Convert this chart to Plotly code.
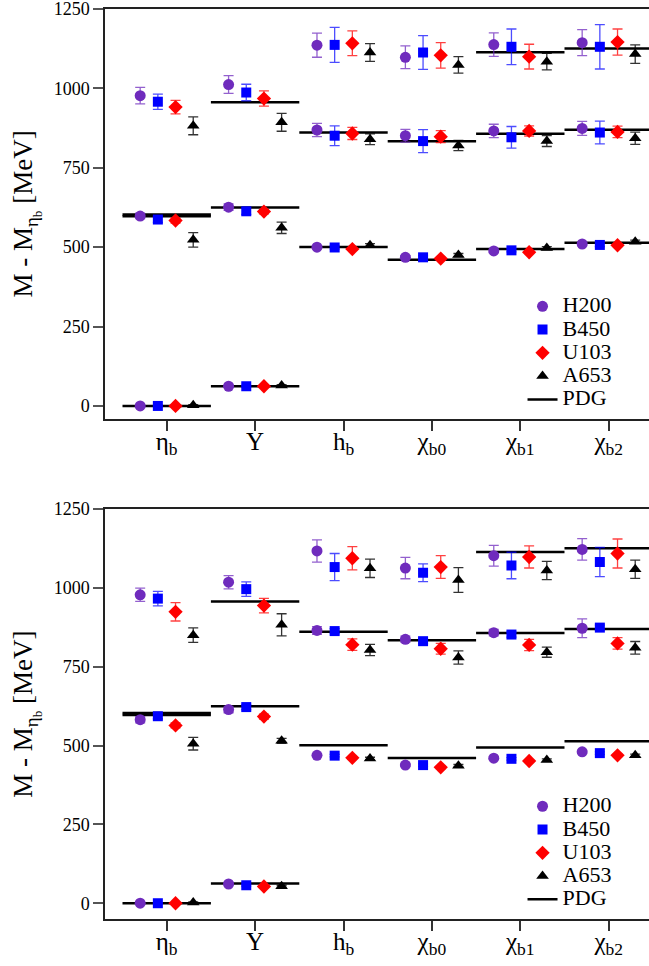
import plotly.graph_objects as go

categories = ["η<sub>b</sub>", "Υ", "h<sub>b</sub>", "χ<sub>b0</sub>", "χ<sub>b1</sub>", "χ<sub>b2</sub>"]
ensembles = ["H200", "B450", "U103", "A653"]

# values per category: [1S/1P level, 2S/2P level, 3S/3P level]
top_H200 = [[0, 598, 977], [62, 626, 1012], [500, 869, 1136], [468, 851, 1098], [488, 866, 1138], [510, 874, 1144]]
top_H200_err = [[2, 8, 26], [3, 10, 28], [5, 21, 38], [5, 20, 36], [5, 21, 37], [5, 22, 41]]
top_B450 = [[0, 587, 958], [62, 613, 987], [499, 851, 1137], [468, 834, 1113], [490, 846, 1131], [507, 861, 1131]]
top_B450_err = [[2, 9, 24], [3, 10, 26], [5, 31, 55], [5, 36, 53], [5, 34, 56], [5, 36, 70]]
top_U103 = [[0, 584, 941], [62, 612, 968], [494, 858, 1142], [464, 848, 1104], [484, 866, 1100], [506, 863, 1146]]
top_U103_err = [[2, 8, 21], [3, 7, 24], [4, 19, 39], [4, 19, 40], [4, 16, 39], [4, 18, 41]]
top_A653 = [[2, 523, 882], [64, 561, 893], [506, 840, 1113], [475, 820, 1074], [497, 834, 1084], [517, 843, 1108]]
top_A653_err = [[2, 23, 28], [3, 18, 28], [5, 17, 28], [5, 16, 26], [5, 17, 26], [5, 19, 29]]

bot_H200 = [[0, 582, 978], [61, 614, 1018], [469, 865, 1117], [438, 837, 1063], [460, 858, 1102], [480, 872, 1122]]
bot_H200_err = [[2, 10, 21], [3, 10, 21], [4, 12, 35], [4, 10, 34], [4, 10, 33], [4, 30, 34]]
bot_B450 = [[0, 593, 966], [57, 622, 996], [468, 863, 1066], [438, 831, 1048], [458, 852, 1071], [476, 874, 1082]]
bot_B450_err = [[2, 8, 23], [3, 8, 23], [4, 8, 43], [4, 8, 28], [4, 8, 42], [4, 8, 46]]
bot_U103 = [[0, 564, 924], [53, 592, 944], [461, 820, 1094], [431, 807, 1066], [451, 819, 1098], [469, 824, 1109]]
bot_U103_err = [[2, 8, 29], [3, 8, 23], [4, 18, 37], [4, 17, 36], [4, 18, 35], [4, 18, 46]]
bot_A653 = [[2, 506, 850], [54, 515, 883], [459, 803, 1062], [436, 779, 1025], [454, 796, 1055], [469, 810, 1059]]
bot_A653_err = [[2, 20, 23], [3, 8, 35], [4, 18, 29], [4, 21, 39], [4, 16, 29], [4, 20, 29]]

pdg_levels = [[0, 597, 603], [62.3, 624.6, 956.5], [500.6, 861.0], [460.7, 833.8], [494.1, 856.8, 1114.0], [513.5, 870.0, 1125.3]]

offsets = [-0.3, -0.1, 0.1, 0.3]
symbols = ["circle", "square", "diamond", "triangle-up"]
sizes = [11, 10, 11, 11]
colors = ["#6f2bbd", "#0000ff", "#ff0000", "#000000"]
err_colors = ["rgba(111,43,189,0.75)", "rgba(0,0,255,0.7)", "rgba(255,0,0,0.75)", "rgba(0,0,0,0.8)"]

FONT = "Liberation Serif"
LEG_TEXT = '<span style="font-size:22px;">{}</span>'

fig = go.Figure()

panels = [
    ("x", "y", "legend", [top_H200, top_B450, top_U103, top_A653],
     [top_H200_err, top_B450_err, top_U103_err, top_A653_err]),
    ("x2", "y2", "legend2", [bot_H200, bot_B450, bot_U103, bot_A653],
     [bot_H200_err, bot_B450_err, bot_U103_err, bot_A653_err]),
]

for xa, ya, lg, vals, errs in panels:
    # PDG lines
    px, py = [], []
    for i, levels in enumerate(pdg_levels):
        for v in levels:
            px += [i - 0.5, i + 0.5, None]
            py += [v, v, None]
    fig.add_trace(go.Scatter(x=px, y=py, mode="lines", name=LEG_TEXT.format("PDG"),
                             line=dict(color="black", width=2.5),
                             xaxis=xa, yaxis=ya, legend=lg, legendrank=1005,
                             hoverinfo="skip"))
    for k, name in enumerate(ensembles):
        xs, ys, es = [], [], []
        for i in range(len(categories)):
            for v, e in zip(vals[k][i], errs[k][i]):
                xs.append(i + offsets[k])
                ys.append(v)
                es.append(e)
        fig.add_trace(go.Scatter(
            x=xs, y=ys, mode="markers", name=LEG_TEXT.format(name),
            marker=dict(symbol=symbols[k], size=sizes[k], color=colors[k], line=dict(width=0)),
            error_y=dict(type="data", array=es, visible=True, color=err_colors[k],
                         thickness=1.3, width=5),
            xaxis=xa, yaxis=ya, legend=lg, legendrank=1000 + k))

xcommon = dict(range=[-0.698, 5.456], tickvals=list(range(len(categories))), ticktext=categories,
               ticks="outside", ticklen=10, tickwidth=1.5, tickcolor="#333",
               showline=True, linecolor="#222", linewidth=1.5, mirror=True,
               showgrid=False, zeroline=False, ticklabelstandoff=-11,
               tickfont=dict(family=FONT, size=25, color="black"))
ycommon = dict(tickvals=[0, 250, 500, 750, 1000, 1250],
               ticks="outside", ticklen=10, tickwidth=1.5, tickcolor="#555",
               showline=True, linecolor="#222", linewidth=1.5,
               showgrid=False, zeroline=False, ticklabeloverflow="allow",
               tickfont=dict(family=FONT, size=18, color="black"),
               title=dict(text="M - M<sub>η<sub>b</sub></sub> [MeV]",
                          font=dict(family=FONT, size=27, color="black"), standoff=13))

legcommon = dict(x=0.7675, xanchor="left", yanchor="top", bgcolor="rgba(0,0,0,0)",
                 font=dict(family=FONT, size=15.6, color="black"), tracegroupgap=0,
                 itemsizing="trace")

fig.update_layout(
    width=649, height=966,
    margin=dict(l=105, r=0, t=9, b=47),
    plot_bgcolor="white", paper_bgcolor="white",
    font=dict(family=FONT, color="black"),
    xaxis=dict(domain=[0, 1], anchor="y", **xcommon),
    yaxis=dict(domain=[0.5495, 1.0], anchor="x", range=[-41, 1250], **ycommon),
    xaxis2=dict(domain=[0, 1], anchor="y2", **xcommon),
    yaxis2=dict(domain=[0.0, 0.4505], anchor="x2", range=[-50, 1250], **ycommon),
    legend=dict(y=0.6916, **legcommon),
    legend2=dict(y=0.1422, **legcommon),
    showlegend=True,
)

fig.write_html("out.html")
